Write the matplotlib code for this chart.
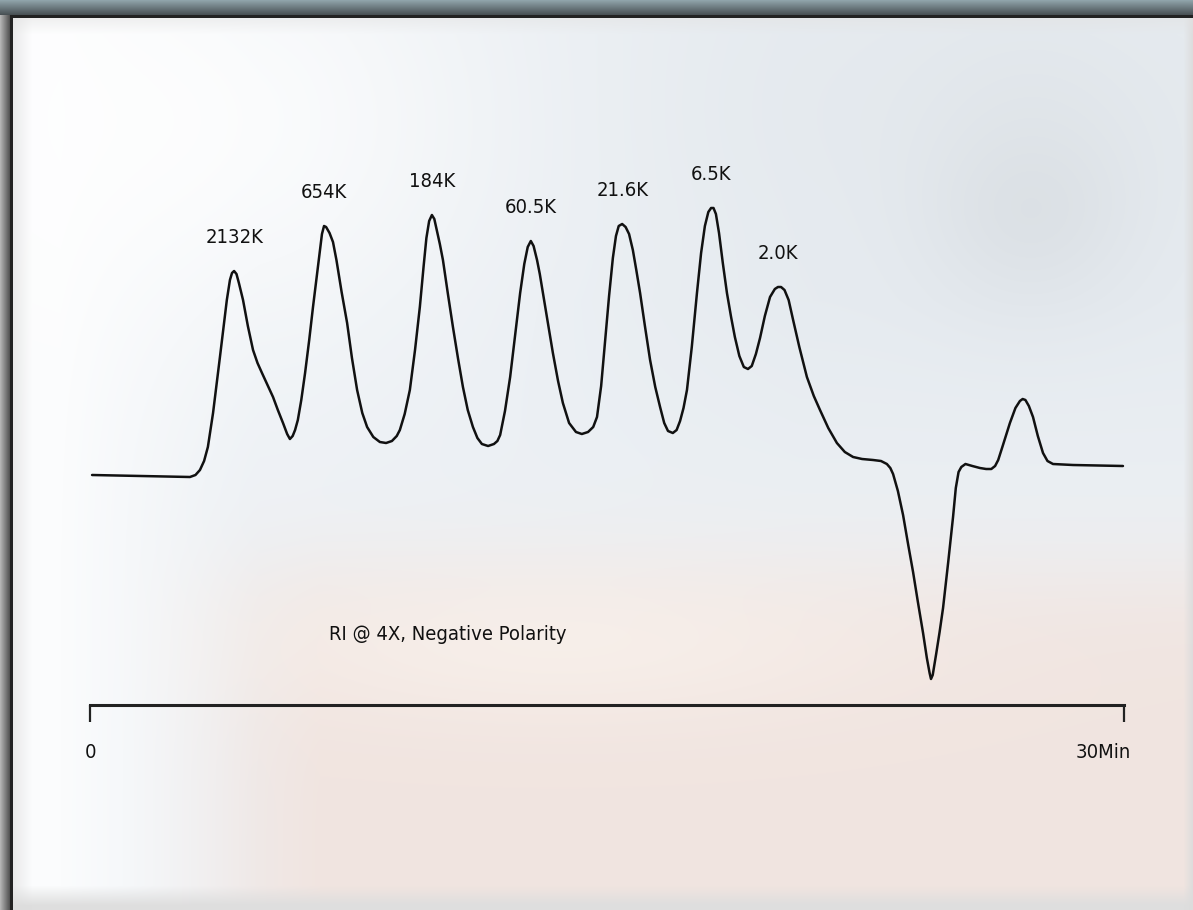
import numpy as np
import matplotlib
matplotlib.use("Agg")
import matplotlib.pyplot as plt
from matplotlib import font_manager as fm

# RI trace, time in minutes, response in arbitrary units (baseline ~0)
time_min = [0.06, 1.50, 2.90, 3.06, 3.19, 3.31, 3.42, 3.57, 3.77, 3.97, 4.06, 4.12, 4.18,
            4.25, 4.32, 4.44, 4.58, 4.73, 4.86, 4.99, 5.15, 5.31, 5.45, 5.60, 5.72, 5.80,
            5.88, 5.95, 6.03, 6.13, 6.24, 6.36, 6.47, 6.58, 6.67, 6.73, 6.79, 6.85, 6.95,
            7.05, 7.15, 7.30, 7.46, 7.60, 7.75, 7.90, 8.04, 8.22, 8.41, 8.59, 8.76, 8.90,
            8.99, 9.13, 9.28, 9.43, 9.57, 9.68, 9.76, 9.84, 9.92, 9.99, 10.06, 10.15,
            10.24, 10.38, 10.53, 10.68, 10.82, 10.96, 11.11, 11.24, 11.37, 11.55, 11.72,
            11.82, 11.90, 12.04, 12.19, 12.34, 12.48, 12.60, 12.70, 12.79, 12.87, 12.97,
            13.05, 13.14, 13.29, 13.43, 13.58, 13.72, 13.90, 14.10, 14.27, 14.45, 14.60,
            14.71, 14.83, 14.94, 15.06, 15.17, 15.26, 15.34, 15.44, 15.54, 15.64, 15.75,
            15.85, 15.96, 16.10, 16.25, 16.40, 16.54, 16.66, 16.77, 16.91, 17.02, 17.12,
            17.22, 17.32, 17.46, 17.61, 17.73, 17.84, 17.94, 18.02, 18.09, 18.16, 18.25,
            18.36, 18.48, 18.60, 18.71, 18.84, 18.97, 19.09, 19.20, 19.32, 19.44, 19.58,
            19.73, 19.87, 19.96, 20.05, 20.15, 20.27, 20.40, 20.58, 20.80, 21.00, 21.18,
            21.42, 21.67, 21.90, 22.14, 22.40, 22.72, 22.95, 23.12, 23.22, 23.30, 23.44,
            23.59, 23.74, 23.88, 24.02, 24.17, 24.28, 24.36, 24.40, 24.45, 24.55, 24.65,
            24.75, 24.90, 25.04, 25.12, 25.20, 25.28, 25.40, 25.60, 25.82, 26.00, 26.15,
            26.26, 26.35, 26.48, 26.69, 26.85, 26.98, 27.06, 27.14, 27.24, 27.36, 27.50,
            27.65, 27.78, 27.94, 28.52, 29.97]
response = [0.1, 0.0, -0.1, 0.1, 0.6, 1.5, 2.9, 6.3, 11.9, 17.6, 19.6, 20.3, 20.5,
            20.2, 19.3, 17.6, 15.0, 12.6, 11.3, 10.3, 9.1, 7.9, 6.6, 5.3, 4.2, 3.7,
            4.0, 4.6, 5.6, 7.6, 10.3, 13.6, 16.9, 20.0, 22.6, 24.2, 25.0, 24.9, 24.3,
            23.4, 21.6, 18.4, 15.3, 11.8, 8.6, 6.3, 4.9, 3.9, 3.4, 3.3, 3.5, 4.0,
            4.6, 6.2, 8.6, 12.6, 16.9, 21.0, 23.8, 25.5, 26.1, 25.7, 24.6, 23.2,
            21.6, 18.3, 14.9, 11.7, 8.9, 6.6, 4.9, 3.8, 3.2, 3.0, 3.2,
            3.5, 4.1, 6.5, 9.9, 14.2, 18.3, 21.2, 22.9, 23.5, 23.0, 21.6,
            20.2, 18.3, 15.2, 12.3, 9.5, 7.3, 5.3, 4.4, 4.2, 4.4, 4.9,
            5.9, 9.0, 13.3, 18.0, 21.8, 24.0, 25.0, 25.2, 24.9, 24.2, 22.6,
            20.6, 18.3, 15.0, 11.6, 8.9, 6.9, 5.3, 4.5, 4.3, 4.6, 5.5,
            6.8, 8.6, 12.9, 18.3, 22.3, 25.0, 26.4, 26.8, 26.8, 26.2, 24.3,
            21.3, 18.3, 15.9, 13.9, 12.0, 10.9, 10.7, 11.0, 12.2, 13.8, 16.0,
            17.9, 18.7, 18.9, 18.9, 18.6, 17.6, 15.6, 12.9, 9.9, 8.0, 6.6,
            4.8, 3.3, 2.4, 1.9, 1.7, 1.6, 1.5, 1.2, 0.8, 0.2, -1.5,
            -3.9, -6.9, -9.6, -12.6, -15.7, -18.2, -19.7, -20.3, -19.9, -17.8, -15.6,
            -13.2, -8.6, -4.1, -1.2, 0.4, 0.9, 1.2, 1.0, 0.8, 0.7, 0.7,
            1.0, 1.6, 3.0, 5.3, 6.8, 7.5, 7.7, 7.6, 7.0, 5.9, 4.0,
            2.3, 1.5, 1.2, 1.1, 1.0]

# peak molecular weight labels
peak_rt = [4.18, 6.79, 9.92, 12.79, 15.44, 18.08, 20.02]
peak_labels = ['2132K', '654K', '184K', '60.5K', '21.6K', '6.5K', '2.0K']

# the original uses a condensed sans; take a narrow face if one is installed
narrow = [f.fname for f in fm.fontManager.ttflist
          if ('Narrow' in f.name or 'Condensed' in f.name or 'Narrow' in f.fname
              or 'Condensed' in f.fname)
          and f.style == 'normal' and f.weight in (400, 'normal', 'regular', 'book')]
if narrow:
    txt_font = fm.FontProperties(fname=sorted(narrow, key=lambda p: 'Liberation' not in p)[0], size=14.5)
else:
    txt_font = fm.FontProperties(family=['Liberation Sans', 'DejaVu Sans'], size=14)

W, H = 1193, 910
fig = plt.figure(figsize=(W / 100, H / 100), dpi=100)

# --- soft photographic-looking backdrop with a picture frame ---
yy, xx = np.mgrid[0:H, 0:W].astype(float)


def blob(cx, cy, sx, sy):
    return np.exp(-(((xx - cx) / sx) ** 2 + ((yy - cy) / sy) ** 2) / 2)


def mix(img, color, w):
    c = np.array(matplotlib.colors.to_rgb(color))
    return img * (1 - w[..., None]) + c * w[..., None]


bg = np.ones((H, W, 3)) * np.array(matplotlib.colors.to_rgb('#edf1f5'))
bg = mix(bg, '#e6ebf0', np.clip((xx - 300) / 500, 0, 1) * np.clip((600 - yy) / 300, 0, 1))
bg = mix(bg, '#d6dbe0', 0.8 * blob(1030, 185, 75, 80))
bg = mix(bg, '#e3e8ec', 0.5 * blob(1000, 110, 260, 80))
peach = 1 / (1 + np.exp(-(yy - 575) / 30)) * np.clip((xx - 120) / 200, 0, 1)
bg = mix(bg, '#f1e4df', 0.95 * peach)
bg = mix(bg, '#faf3ed', 0.65 * blob(560, 645, 230, 55))
bg = mix(bg, '#fbfcfd', np.clip((260 - xx) / 200, 0, 1) ** 1.2)
bg = mix(bg, '#ffffff', 0.8 * blob(180, 120, 220, 160))
bg = mix(bg, '#dedede', np.clip((yy - 885) / 20, 0, 1))
bg = mix(bg, '#dcdcdc', np.clip((xx - 1183) / 10, 0, 1))
bg = mix(bg, '#dddddd', 0.6 * np.clip((32 - xx) / 20, 0, 1))
bg = mix(bg, '#e2e2e2', 0.5 * np.clip((34 - yy) / 16, 0, 1))
# frame: dark outer border on left and top
bg = mix(bg, '#b4b4b4', (xx < 10) * 1.0)
bg = mix(bg, '#4a4a4a', (xx < 10) * np.clip(xx / 10, 0, 1))
bg = mix(bg, '#8fa3aa', (yy < 15) * 1.0)
bg = mix(bg, '#3c4245', (yy < 15) * np.clip(yy / 15, 0, 1) * 0.9)
bg = mix(bg, '#222222', (((xx >= 10) & (xx < 13) & (yy >= 15)) | ((yy >= 15) & (yy < 18) & (xx >= 10))) * 1.0)

bg_ax = fig.add_axes([0, 0, 1, 1])
bg_ax.imshow(np.clip(bg, 0, 1), aspect='auto', interpolation='bilinear')
bg_ax.axis('off')

# --- chromatogram ---
ax = fig.add_axes([90 / W, 1 - 705 / H, (1124 - 90) / W, (705 - 150) / H])
ax.patch.set_alpha(0)
ax.plot(time_min, response, color='#111111', lw=1.8, solid_joinstyle='round',
        solid_capstyle='round', clip_on=False)
ax.set_xlim(0, 30)
ax.set_ylim(-22.9, 32.6)

t_arr = np.array(time_min)
r_arr = np.array(response)
for rt, lab in zip(peak_rt, peak_labels):
    win = np.abs(t_arr - rt) < 0.4
    i = np.argmax(np.where(win, r_arr, -np.inf))
    ax.annotate(lab, (t_arr[i], r_arr[i]), xytext=(0, 24), textcoords='offset points',
                ha='center', va='center', fontproperties=txt_font, color='#111111')

ax.text(6.93, -15.9, 'RI @ 4X, Negative Polarity', ha='left', va='center',
        fontproperties=txt_font, color='#111111')

for s in ['top', 'left', 'right']:
    ax.spines[s].set_visible(False)
ax.spines['bottom'].set_linewidth(2.2)
ax.spines['bottom'].set_color('#222222')
ax.set_yticks([])
ax.set_xticks([0, 30])
ax.set_xticklabels(['0', ''])
for lab in ax.get_xticklabels():
    lab.set_fontproperties(txt_font)
    lab.set_color('#111111')
ax.tick_params(axis='x', direction='out', length=12, width=1.6, color='#222222', pad=15)
# end label sits slightly right of its tick, right-aligned
ax.annotate('30Min', xy=(30, 0), xycoords=('data', 'axes fraction'), xytext=(5, -27),
            textcoords='offset points', ha='right', va='top', fontproperties=txt_font,
            color='#111111')

fig.savefig('out.png', dpi=100)
